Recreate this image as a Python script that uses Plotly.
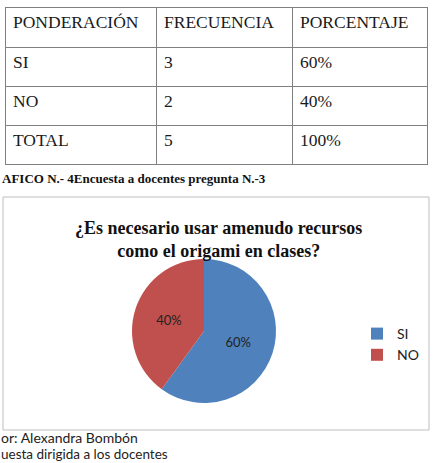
import plotly.graph_objects as go

# Table data
header = ["PONDERACIÓN", "FRECUENCIA", "PORCENTAJE"]
ponderacion = ["SI", "NO", "TOTAL"]
frecuencia = ["3", "2", "5"]
porcentaje = ["60%", "40%", "100%"]

# Pie data
labels = ["SI", "NO"]
values = [60, 40]
colors = ["#4F81BD", "#C0504D"]

chart_title = "¿Es necesario usar amenudo recursos<br>como el origami en clases?"
caption = "AFICO N.- 4Encuesta a docentes pregunta N.-3"
footer1 = "or: Alexandra Bombón"
footer2 = "uesta dirigida a los docentes"

W, H = 433, 463
def px(x): return x / W
def py(y): return 1 - y / H

fig = go.Figure()

fig.add_trace(go.Table(
    domain=dict(x=[px(5), px(427)], y=[py(166), py(7)]),
    columnwidth=[151, 136, 135],
    header=dict(values=header, height=40, align="left",
                fill_color="white", line_color="#7f7f7f",
                font=dict(family="Liberation Serif", size=17.5, color="#1a1a1a")),
    cells=dict(values=[ponderacion, frecuencia, porcentaje], height=39, align="left",
               fill_color="white", line_color="#7f7f7f",
               font=dict(family="Liberation Serif", size=17.5, color="#1a1a1a")),
))

fig.add_trace(go.Pie(
    labels=labels, values=values, sort=False, direction="clockwise", rotation=0,
    marker=dict(colors=colors, line=dict(color="white", width=0)),
    texttemplate="%{percent:.0%}", textposition="inside", insidetextorientation="horizontal",
    textfont=dict(family="Lato", size=13, color="#222"),
    domain=dict(x=[px(132), px(276)], y=[py(403), py(259)]),
    hoverinfo="label+percent",
))

fig.add_shape(type="rect", xref="paper", yref="paper",
              x0=px(3), x1=px(429), y0=py(430), y1=py(197),
              line=dict(color="#bfbfbf", width=1), fillcolor="rgba(0,0,0,0)")

fig.add_annotation(text=chart_title, xref="paper", yref="paper", x=px(218), y=py(216),
                   xanchor="center", yanchor="top", showarrow=False, align="center",
                   font=dict(family="Liberation Serif", size=18, color="#111", weight="bold"))
fig.add_annotation(text="<b>" + caption + "</b>", xref="paper", yref="paper", x=0, y=py(178),
                   xanchor="left", yanchor="middle", showarrow=False,
                   font=dict(family="Liberation Serif", size=13, color="#111"))
fig.add_annotation(text=footer1, xref="paper", yref="paper", x=0, y=py(437),
                   xanchor="left", yanchor="middle", showarrow=False, borderpad=0,
                   font=dict(family="Lato", size=14, color="#222"))
fig.add_annotation(text=footer2, xref="paper", yref="paper", x=0, y=py(454),
                   xanchor="left", yanchor="middle", showarrow=False, borderpad=0,
                   font=dict(family="Lato", size=13.5, color="#222"))

fig.update_layout(
    width=W, height=H, margin=dict(l=0, r=0, t=0, b=0),
    paper_bgcolor="white", plot_bgcolor="white",
    showlegend=True,
    legend=dict(x=px(424), y=py(318), xanchor="right", yanchor="top",
                font=dict(family="Lato", size=14, color="#222"),
                bgcolor="rgba(0,0,0,0)"),
)

fig.write_html("out.html")
